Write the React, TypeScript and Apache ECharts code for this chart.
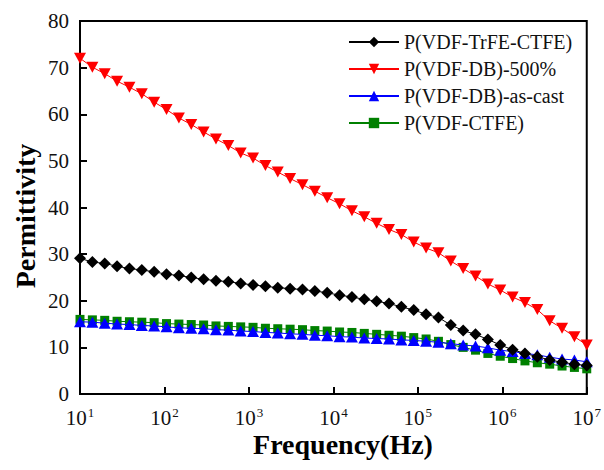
import React, { useEffect, useRef } from "react";
import * as echarts from "echarts";

const frequencies = [
  10, 14.01, 19.62, 27.48, 38.49, 53.91, 75.52, 105.8, 148.2, 207.6, 290.8, 407.3, 570.5, 799.1,
  1119, 1568, 2196, 3075, 4308, 6034, 8452, 11839, 16583, 23228, 32535, 45573, 63834, 89412,
  125240, 175423, 245714, 344171, 482079, 675246, 945816, 1324802, 1855650, 2599210, 3640714,
  5099556, 7142953, 10000000,
];

const trfeCtfe = [
  29.1, 28.3, 28.0, 27.4, 26.9, 26.6, 26.2, 25.7, 25.4, 25.0, 24.6, 24.3, 24.1, 23.7, 23.4, 23.1,
  22.8, 22.6, 22.4, 22.1, 21.7, 21.2, 20.8, 20.3, 19.9, 19.4, 18.7, 18.0, 17.1, 16.4, 14.8, 13.6,
  12.8, 11.7, 10.5, 9.5, 8.7, 8.0, 7.3, 6.8, 6.4, 6.1,
];

const db500 = [
  72.0, 70.1, 68.7, 67.1, 65.8, 64.4, 62.6, 61.0, 59.2, 57.8, 56.2, 54.7, 53.3, 51.7, 50.6, 49.0,
  47.6, 46.2, 44.9, 43.5, 42.1, 40.8, 39.3, 38.0, 36.6, 35.3, 34.2, 32.6, 31.3, 30.3, 28.5, 26.9,
  25.3, 23.6, 22.3, 20.8, 19.6, 18.1, 15.7, 14.1, 12.3, 10.5,
];

const dbAsCast = [
  15.5, 15.4, 15.2, 15.0, 14.9, 14.7, 14.6, 14.4, 14.2, 14.1, 14.0, 13.8, 13.7, 13.5, 13.4, 13.2,
  13.1, 12.9, 12.8, 12.6, 12.5, 12.3, 12.2, 12.0, 11.9, 11.8, 11.6, 11.5, 11.3, 11.1, 10.8, 10.5,
  10.3, 9.9, 9.4, 9.1, 8.7, 8.4, 7.9, 7.5, 7.3, 6.9,
];

const ctfe = [
  16.0, 15.9, 15.8, 15.6, 15.5, 15.4, 15.3, 15.1, 15.0, 14.9, 14.8, 14.6, 14.5, 14.4, 14.3, 14.1,
  14.0, 13.9, 13.8, 13.6, 13.5, 13.3, 13.2, 13.0, 12.8, 12.6, 12.4, 12.1, 11.8, 11.3, 10.6, 10.0,
  9.4, 8.7, 8.1, 7.6, 7.1, 6.7, 6.4, 6.0, 5.7, 5.4,
];

const seriesNames = [
  "P(VDF-TrFE-CTFE)",
  "P(VDF-DB)-500%",
  "P(VDF-DB)-as-cast",
  "P(VDF-CTFE)",
];

const yTicks = [0, 10, 20, 30, 40, 50, 60, 70, 80];

const xTitle = "Frequency(Hz)";
const yTitle = "Permittivity";

const FONT = "'Liberation Serif', 'Times New Roman', Times, serif";
const DOWN_TRI = "path://M0,0 L10,0 L5,9 Z";

function pairs(vals: number[]) {
  return frequencies.map((f, i) => [f, vals[i]]);
}

export default function App() {
  const ref = useRef<HTMLDivElement>(null);
  useEffect(() => {
    document.body.style.margin = "0";
    if (!ref.current) return;
    const chart = echarts.init(ref.current, undefined, { renderer: "svg" });
    const mk = (
      name: string,
      vals: number[],
      color: string,
      symbol: string,
      size: number | number[],
      z: number
    ) => ({
      type: "line",
      name,
      data: pairs(vals),
      symbol,
      symbolSize: size,
      showSymbol: true,
      z,
      lineStyle: { color, width: 1 },
      itemStyle: { color, borderWidth: 0 },
      emphasis: { disabled: true },
    });
    chart.setOption({
      animation: false,
      backgroundColor: "#fff",
      textStyle: { fontFamily: FONT },
      grid: {
        left: 80,
        top: 21,
        width: 507,
        height: 373,
        show: true,
        borderColor: "#000",
        borderWidth: 2,
      },
      legend: {
        orient: "vertical",
        left: 348,
        top: 32,
        padding: 0,
        itemWidth: 50,
        itemHeight: 13,
        itemGap: 7,
        data: seriesNames,
        textStyle: { fontFamily: FONT, fontSize: 20, color: "#111", lineHeight: 20 },
      },
      graphic: [
        {
          type: "text",
          x: 343,
          y: 444,
          style: {
            text: xTitle,
            fontFamily: FONT,
            fontSize: 28,
            fontWeight: "bold",
            fill: "#000",
            align: "center",
            verticalAlign: "middle",
          },
        },
        {
          type: "text",
          x: 25,
          y: 216,
          rotation: Math.PI / 2,
          style: {
            text: yTitle,
            fontFamily: FONT,
            fontSize: 28,
            fontWeight: "bold",
            fill: "#000",
            align: "center",
            verticalAlign: "middle",
          },
        },
      ],
      xAxis: {
        type: "log",
        logBase: 10,
        min: 10,
        max: 10000000,
        axisLine: { show: true, lineStyle: { color: "#000", width: 2 } },
        axisTick: { show: true, inside: true, length: 7, lineStyle: { color: "#000", width: 2 } },
        minorTick: { show: false },
        splitLine: { show: false },
        axisLabel: {
          margin: 12,
          formatter: (v: number) => `{b|10}{s|${Math.round(Math.log10(v))}}`,
          rich: {
            b: { fontFamily: FONT, fontSize: 21, color: "#111" },
            s: { fontFamily: FONT, fontSize: 13, color: "#111", padding: [0, 0, 10, 1] },
          },
        },
      },
      yAxis: {
        type: "value",
        min: yTicks[0],
        max: yTicks[yTicks.length - 1],
        interval: 10,
        axisLine: { show: true, lineStyle: { color: "#000", width: 2 } },
        axisTick: { show: true, inside: true, length: 7, lineStyle: { color: "#000", width: 2 } },
        splitLine: { show: false },
        axisLabel: { fontFamily: FONT, fontSize: 21, color: "#111", margin: 11 },
      },
      series: [
        mk(seriesNames[0], trfeCtfe, "#000000", "diamond", [12, 12], 5),
        mk(seriesNames[1], db500, "#ff0000", DOWN_TRI, [12, 11], 4),
        mk(seriesNames[2], dbAsCast, "#0000ff", "triangle", [12, 11], 3),
        mk(seriesNames[3], ctfe, "#008000", "rect", [9, 9], 2),
      ],
    });
    return () => chart.dispose();
  }, []);
  return <div ref={ref} style={{ width: 604, height: 470 }} />;
}
